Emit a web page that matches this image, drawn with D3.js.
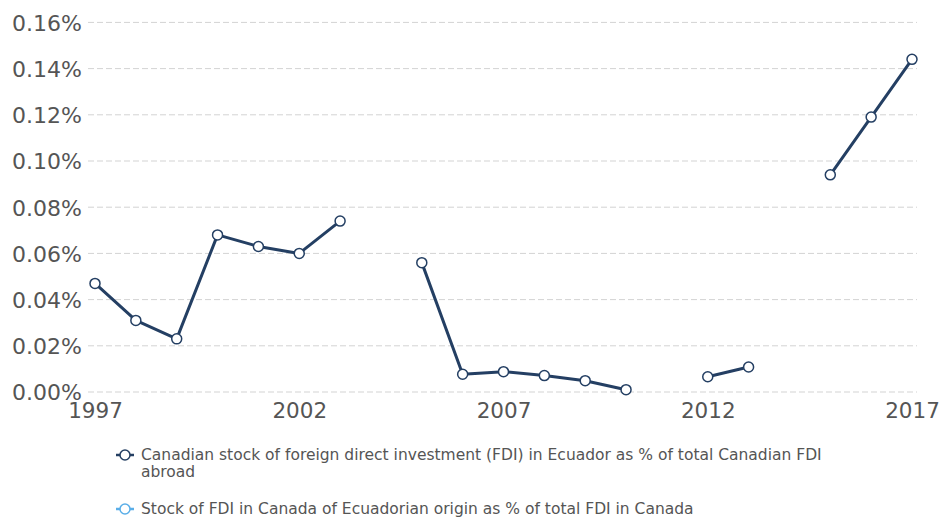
<!DOCTYPE html>
<html>
<head>
<meta charset="utf-8">
<script src="https://cdn.jsdelivr.net/npm/d3@7"></script>
<style>
  body { margin: 0; background: #fff; }
  svg text { font-family: Verdana, "DejaVu Sans", sans-serif; fill: #555; }
</style>
</head>
<body>
<div id="chart"></div>
<script>
// years on the x axis
var years = [1997, 1998, 1999, 2000, 2001, 2002, 2003, 2004, 2005, 2006, 2007,
             2008, 2009, 2010, 2011, 2012, 2013, 2014, 2015, 2016, 2017];

// Canadian stock of FDI in Ecuador, % of total Canadian FDI abroad (null = no data)
var canadaInEcuador = [0.047, 0.031, 0.023, 0.068, 0.063, 0.060, 0.074, null, 0.056, 0.0077, 0.0088,
                       0.0071, 0.0049, 0.001, null, 0.0066, 0.0108, null, 0.094, 0.119, 0.144];

// Stock of FDI in Canada of Ecuadorian origin (no values shown)
var ecuadorInCanada = [null, null, null, null, null, null, null, null, null, null, null,
                       null, null, null, null, null, null, null, null, null, null];

var yTicks = [0, 0.02, 0.04, 0.06, 0.08, 0.10, 0.12, 0.14, 0.16];
var xTicks = [1997, 2002, 2007, 2012, 2017];

var seriesNames = [
    "Canadian stock of foreign direct investment (FDI) in Ecuador as % of total Canadian FDI abroad",
    "Stock of FDI in Canada of Ecuadorian origin as % of total FDI in Canada"
];
var seriesColors = ["#243f63", "#5aaee8"];

function init() {
    var width = 940;
    var height = 517;

    var svg = d3.select("#chart")
                .append("svg")
                .attr("width", width)
                .attr("height", height);

    var xScale = d3.scaleLinear()
                   .domain([1997, 2017])
                   .range([95, 912]);

    var yScale = d3.scaleLinear()
                   .domain([0, 0.16])
                   .range([392, 22.4]);

    // gridlines
    svg.append("g")
       .selectAll("line")
       .data(yTicks)
       .enter()
       .append("line")
       .attr("x1", 88)
       .attr("x2", 917)
       .attr("y1", function(d) { return yScale(d); })
       .attr("y2", function(d) { return yScale(d); })
       .attr("stroke", "#d3d3d3")
       .attr("stroke-width", 1)
       .attr("stroke-dasharray", "6,3");

    // y axis labels
    var yAxis = d3.axisLeft(yScale)
                  .tickValues(yTicks)
                  .tickSize(0)
                  .tickPadding(0)
                  .tickFormat(function(d) { return d3.format(".2f")(d) + "%"; });

    svg.append("g")
       .attr("transform", "translate(82, 0)")
       .call(yAxis)
       .call(function(g) { g.select(".domain").remove(); })
       .selectAll("text")
       .attr("dy", "0.36em")
       .style("font-size", "22px")
       .style("font-family", "Verdana, 'DejaVu Sans', sans-serif")
       .attr("fill", "#555");

    // x axis labels
    var xAxis = d3.axisBottom(xScale)
                  .tickValues(xTicks)
                  .tickSize(0)
                  .tickPadding(0)
                  .tickFormat(d3.format("d"));

    svg.append("g")
       .attr("transform", "translate(0, 403)")
       .call(xAxis)
       .call(function(g) { g.select(".domain").remove(); })
       .selectAll("text")
       .attr("dy", "0.71em")
       .style("font-size", "21.5px")
       .style("font-family", "Verdana, 'DejaVu Sans', sans-serif")
       .attr("fill", "#555");

    // lines
    var line = d3.line()
                 .defined(function(d) { return d.v !== null; })
                 .x(function(d) { return xScale(d.year); })
                 .y(function(d) { return yScale(d.v); });

    [canadaInEcuador, ecuadorInCanada].forEach(function(values, s) {
        var pts = years.map(function(y, i) { return { year: y, v: values[i] }; });

        svg.append("path")
           .datum(pts)
           .attr("fill", "none")
           .attr("stroke", seriesColors[s])
           .attr("stroke-width", 3)
           .attr("stroke-linejoin", "round")
           .attr("d", line);

        svg.append("g")
           .selectAll("circle")
           .data(pts.filter(function(d) { return d.v !== null; }))
           .enter()
           .append("circle")
           .attr("cx", function(d) { return xScale(d.year); })
           .attr("cy", function(d) { return yScale(d.v); })
           .attr("r", 5)
           .attr("fill", "#fff")
           .attr("stroke", seriesColors[s])
           .attr("stroke-width", 1.5);
    });

    // legend
    var legendY = [455, 509];
    seriesNames.forEach(function(name, i) {
        var g = svg.append("g")
                   .attr("transform", "translate(0, " + legendY[i] + ")");

        g.append("line")
         .attr("x1", 116).attr("x2", 134)
         .attr("y1", 0).attr("y2", 0)
         .attr("stroke", seriesColors[i])
         .attr("stroke-width", 2.5);

        g.append("circle")
         .attr("cx", 125).attr("cy", 0).attr("r", 5)
         .attr("fill", "#fff")
         .attr("stroke", seriesColors[i])
         .attr("stroke-width", 1.5);

        var text = g.append("text")
                    .attr("x", 141)
                    .attr("y", 0)
                    .attr("dy", "0.35em")
                    .style("font-size", "15.5px");

        // simple word wrap
        var words = name.split(" ");
        var tspan = text.append("tspan").attr("x", 141);
        var current = [];
        words.forEach(function(w) {
            current.push(w);
            tspan.text(current.join(" "));
            if (tspan.node().getComputedTextLength() > 700 && current.length > 1) {
                current.pop();
                tspan.text(current.join(" "));
                current = [w];
                tspan = text.append("tspan").attr("x", 141).attr("dy", "17px").text(w);
            }
        });
    });
}

window.onload = init;
</script>
</body>
</html>
